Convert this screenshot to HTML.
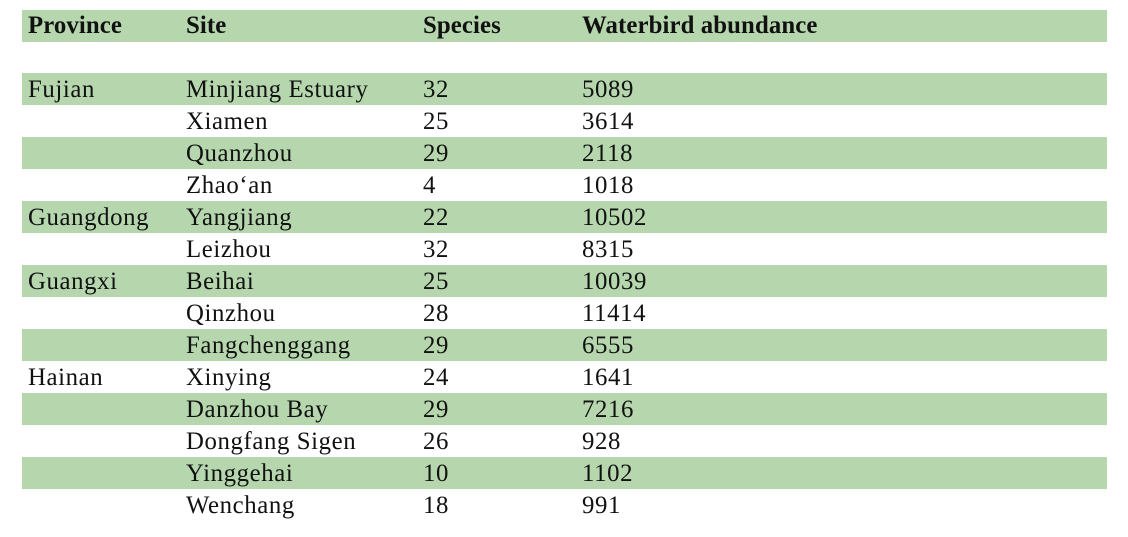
<!DOCTYPE html>
<html><head><style>
body{margin:0;width:1128px;height:537px;background:#fff;position:relative;overflow:hidden;font-family:"Liberation Serif",serif;font-size:24.8px;color:#111}
.r{position:absolute;left:22px;width:1085px;height:32px}
.g{background:#b6d7ae}
.r span{position:absolute;top:1px;line-height:32px;white-space:nowrap;letter-spacing:0.6px}
.a{left:6px}.b{left:164px}.c{left:401px}.d{left:560px}
.h span{font-weight:bold;letter-spacing:0.1px;top:0}
</style></head><body>
<div class="r g h" style="top:10px"><span class="a">Province</span><span class="b">Site</span><span class="c">Species</span><span class="d">Waterbird abundance</span></div>
<div class="r g" style="top:73px"><span class="a">Fujian</span><span class="b">Minjiang Estuary</span><span class="c">32</span><span class="d">5089</span></div>
<div class="r" style="top:105px"><span class="b">Xiamen</span><span class="c">25</span><span class="d">3614</span></div>
<div class="r g" style="top:137px"><span class="b">Quanzhou</span><span class="c">29</span><span class="d">2118</span></div>
<div class="r" style="top:169px"><span class="b">Zhao‘an</span><span class="c">4</span><span class="d">1018</span></div>
<div class="r g" style="top:201px"><span class="a">Guangdong</span><span class="b">Yangjiang</span><span class="c">22</span><span class="d">10502</span></div>
<div class="r" style="top:233px"><span class="b">Leizhou</span><span class="c">32</span><span class="d">8315</span></div>
<div class="r g" style="top:265px"><span class="a">Guangxi</span><span class="b">Beihai</span><span class="c">25</span><span class="d">10039</span></div>
<div class="r" style="top:297px"><span class="b">Qinzhou</span><span class="c">28</span><span class="d">11414</span></div>
<div class="r g" style="top:329px"><span class="b">Fangchenggang</span><span class="c">29</span><span class="d">6555</span></div>
<div class="r" style="top:361px"><span class="a">Hainan</span><span class="b">Xinying</span><span class="c">24</span><span class="d">1641</span></div>
<div class="r g" style="top:393px"><span class="b">Danzhou Bay</span><span class="c">29</span><span class="d">7216</span></div>
<div class="r" style="top:425px"><span class="b">Dongfang Sigen</span><span class="c">26</span><span class="d">928</span></div>
<div class="r g" style="top:457px"><span class="b">Yinggehai</span><span class="c">10</span><span class="d">1102</span></div>
<div class="r" style="top:489px"><span class="b">Wenchang</span><span class="c">18</span><span class="d">991</span></div>
</body></html>
